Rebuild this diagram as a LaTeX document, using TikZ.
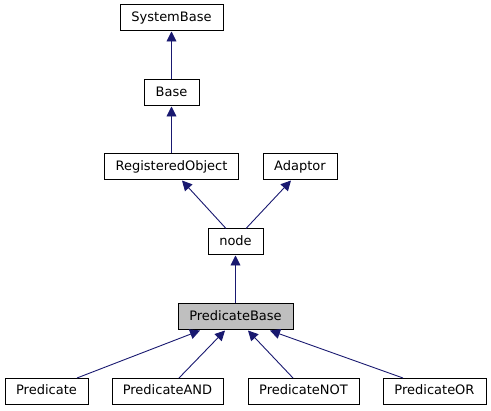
\documentclass[tikz,border=0pt]{standalone}
\usepackage{fontspec}
\setmainfont{DejaVu Sans}
\usetikzlibrary{arrows.meta}

\definecolor{EDGE}{HTML}{191970}
\definecolor{CUR}{HTML}{BFBFBF}

\begin{document}
\begin{tikzpicture}[x=1pt, y=-1pt,
    cls/.style={draw=black, line width=1pt, fill=white, inner sep=0pt,
        minimum height=26pt, text height=9.5pt, text depth=2.5pt,
        font=\fontsize{13}{15}\selectfont},
    inh/.style={EDGE, line width=0.9pt, -{Triangle[length=10pt, width=10pt]}}]
            \useasboundingbox (0,0) rectangle (491,411);

            % classes
            \node[cls, minimum width=103pt] (sysbase) at (171.5, 18) {SystemBase};
            \node[cls, minimum width=55pt] (base) at (171.5, 93) {Base};
            \node[cls, minimum width=134pt] (regobj) at (171.5, 167) {RegisteredObject};
            \node[cls, minimum width=74pt] (adaptor) at (300, 167) {Adaptor};
            \node[cls, minimum width=55pt] (nd) at (235.5, 242) {node};
            \node[cls, minimum width=115pt, fill=CUR] (pbase) at (235.5, 317) {PredicateBase};
            \node[cls, minimum width=83pt] (pred) at (46.5, 391.5) {Predicate};
            \node[cls, minimum width=111pt] (pand) at (167.5, 391.5) {PredicateAND};
            \node[cls, minimum width=111pt] (pnot) at (303.5, 391.5) {PredicateNOT};
            \node[cls, minimum width=103pt] (por) at (434.5, 391.5) {PredicateOR};

            % inheritance
            \draw[inh] (base.north) -- (sysbase.south);
            \draw[inh] (regobj.north) -- (base.south);
            \draw[inh] ([xshift=-9.5pt]nd.north) -- ([xshift=10.5pt]regobj.south);
            \draw[inh] ([xshift=10.5pt]nd.north) -- ([xshift=-9pt]adaptor.south);
            \draw[inh] (pbase.north) -- (nd.south);
            \draw[inh] ([xshift=30.5pt]pred.north) -- ([xshift=-35.5pt]pbase.south);
            \draw[inh] ([xshift=11.5pt]pand.north) -- ([xshift=-10.5pt]pbase.south);
            \draw[inh] ([xshift=-10.5pt]pnot.north) -- ([xshift=12.5pt]pbase.south);
            \draw[inh] ([xshift=-31.5pt]por.north) -- ([xshift=34.5pt]pbase.south);
        \end{tikzpicture}
\end{document}
